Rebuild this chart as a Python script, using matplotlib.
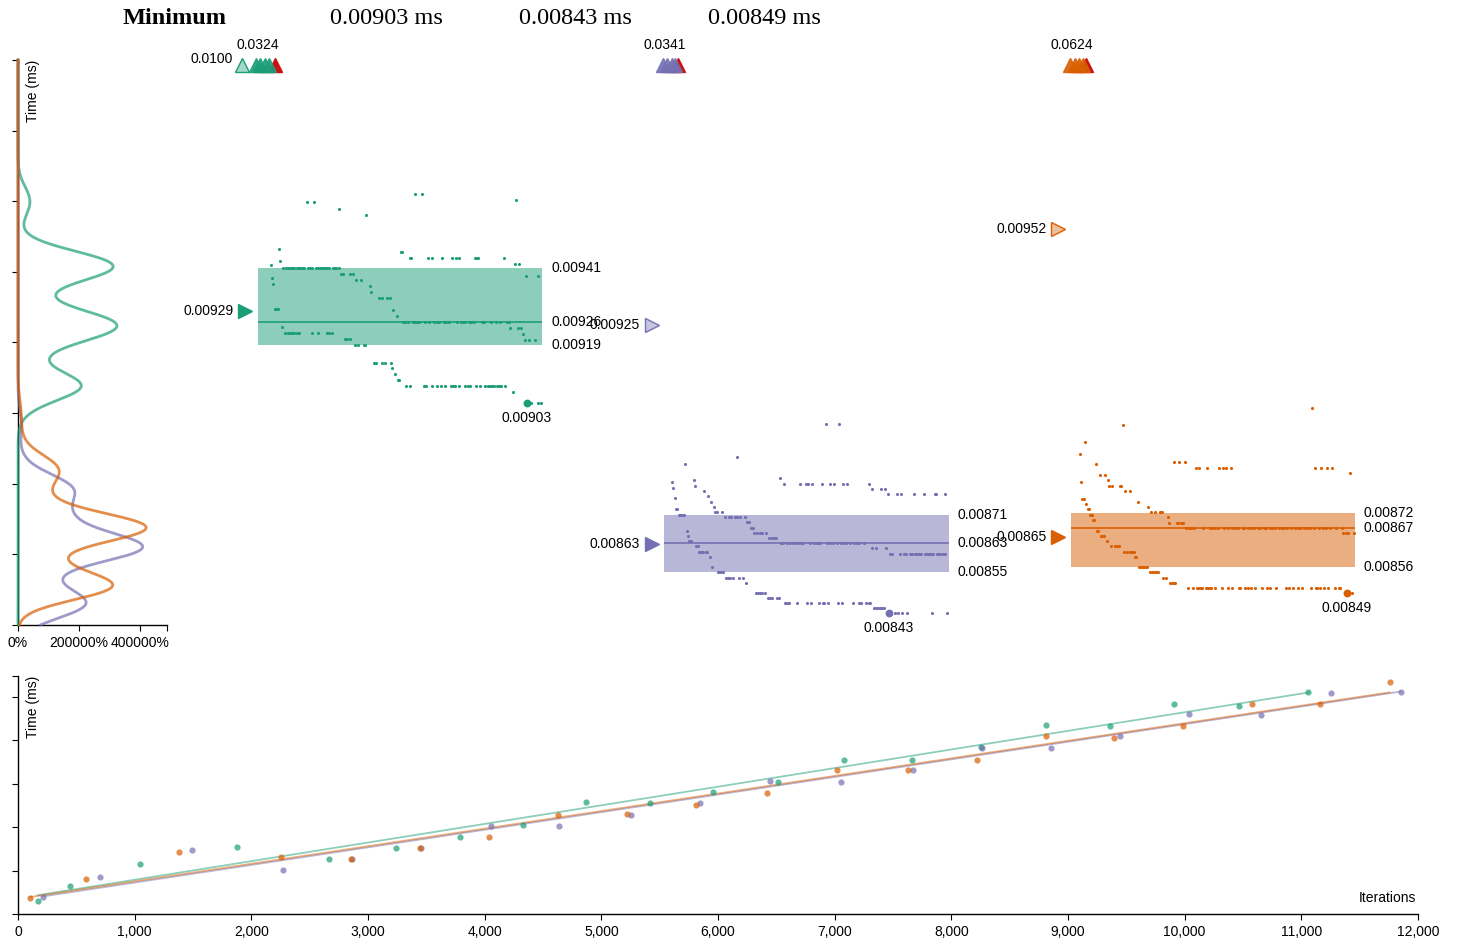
import numpy as np
import matplotlib.pyplot as plt
from matplotlib import transforms
from matplotlib.colors import to_rgba
from matplotlib.ticker import FuncFormatter, NullFormatter

W, H = 1458, 942
plt.rcParams['font.family'] = ['Liberation Sans', 'DejaVu Sans']
plt.rcParams['font.size'] = 10
plt.rcParams['axes.linewidth'] = 1.0

colors = ['#1b9e77', '#7570b3', '#d95f02']

# samples: (time per iteration in ms, positions along the box in %)
green_rows = [
    (0.009621, [55.5, 57.8]),
    (0.009604, [91.0]),
    (0.009597, [17.4, 19.8]),
    (0.009579, [28.8]),
    (0.009561, [38.3]),
    (0.009465, [7.4]),
    (0.009456, [50.3, 50.9]),
    (0.009440, [53.5, 54.0, 59.8, 61.5, 64.9, 68.2, 69.6, 71.0, 76.4, 77.1, 77.6, 86.8]),
    (0.009430, [8.0]),
    (0.009422, [90.6, 92.0]),
    (0.009419, [4.7]),
    (0.009412, [9.1, 10.0, 10.7, 11.5, 12.3, 13.0, 13.8, 14.7, 15.4, 15.9, 16.5, 17.9, 18.5,
                19.1, 20.5, 21.2, 22.0, 22.6, 23.2, 23.8, 24.4, 25.2, 26.5, 27.1, 27.7, 28.5]),
    (0.009395, [29.4, 30.2, 32.4, 33.5]),
    (0.009389, [94.4, 98.6]),
    (0.009384, [5.2]),
    (0.009377, [34.6, 36.5]),
    (0.009366, [5.6]),
    (0.009360, [39.4]),
    (0.009343, [40.0]),
    (0.009326, [42.8, 43.7, 45.5, 46.4]),
    (0.009296, [6.0, 6.6, 7.2]),
    (0.009292, [47.8]),
    (0.009275, [48.9]),
    (0.009259, [51.1, 51.9, 52.8, 54.5, 55.2, 56.0, 56.9, 58.7, 60.4, 62.1, 63.1, 63.9, 65.4, 66.2,
                67.2, 70.1, 71.5, 72.2, 72.9, 74.2, 75.0, 76.0, 78.9, 79.5, 82.1, 83.8, 85.3, 87.7, 88.3]),
    (0.009244, [8.6]),
    (0.009241, [88.9, 91.6, 92.5]),
    (0.009228, [9.7, 10.6, 11.4, 12.2, 13.0, 13.8, 14.7, 19.3, 21.2, 24.6, 25.3, 26.1]),
    (0.009225, [93.2]),
    (0.009210, [30.6, 31.5, 32.6]),
    (0.009208, [93.9, 95.5, 97.4]),
    (0.009194, [34.1, 35.5, 37.3, 37.9]),
    (0.009143, [40.8, 41.6, 43.7, 44.7, 46.9]),
    (0.009127, [47.4]),
    (0.009110, [48.3]),
    (0.009093, [49.4, 49.8]),
    (0.009076, [52.2, 53.6, 58.4, 59.2, 61.2, 63.0, 64.4, 65.9, 68.0, 68.7, 69.3, 70.7, 73.0, 74.0,
                74.8, 76.8, 78.2, 80.1, 80.9, 81.6, 82.4, 83.2, 84.1, 84.9, 85.7, 87.1]),
    (0.009060, [89.8]),
    (0.009028, [94.7, 96.2, 98.6, 99.5]),
]

purple_rows = [
    (0.008969, [56.8, 61.6]),
    (0.008876, [25.5]),
    (0.008856, [7.5]),
    (0.008815, [40.7]),
    (0.008810, [10.4]),
    (0.008805, [2.8]),
    (0.008800, [42.2, 47.9, 49.8, 50.7, 52.1, 55.5, 58.3, 59.7, 63.0, 64.4, 72.0]),
    (0.008794, [10.9]),
    (0.008789, [3.3]),
    (0.008785, [73.0, 76.3, 77.8]),
    (0.008780, [14.2]),
    (0.008771, [78.7, 82.0, 83.4, 87.7, 91.5, 95.2, 95.7, 98.6]),
    (0.008764, [15.6]),
    (0.008759, [3.7]),
    (0.008749, [16.5]),
    (0.008735, [17.4]),
    (0.008728, [4.2, 4.7]),
    (0.008720, [17.9, 18.5, 20.4]),
    (0.008712, [5.2, 5.6, 6.1, 6.6, 7.0]),
    (0.008705, [21.3, 22.7, 23.4, 25.1, 25.8, 26.7, 28.5]),
    (0.008691, [29.3, 30.0]),
    (0.008676, [30.7, 31.3]),
    (0.008667, [8.1]),
    (0.008661, [31.7, 32.7, 33.6, 34.5, 35.9]),
    (0.008653, [8.5]),
    (0.008646, [36.9, 37.8, 38.6, 39.3]),
    (0.008637, [8.9, 9.5]),
    (0.008631, [41.2, 41.7, 43.3, 44.3, 45.2, 46.1, 47.1, 48.0, 48.9, 51.2, 52.7, 53.4, 54.1,
                55.0, 57.4, 58.3, 59.3, 60.7, 62.1, 63.0, 63.9, 65.3, 66.7, 67.7, 68.6, 70.4]),
    (0.008623, [11.4, 11.8]),
    (0.008617, [73.2, 74.5, 78.2]),
    (0.008608, [12.3, 12.8, 13.2, 13.8, 14.8, 15.2]),
    (0.008602, [79.4, 80.2, 82.9, 84.4, 84.9, 86.3, 86.8, 87.2, 88.2, 88.6, 89.1, 89.6, 90.0,
                90.5, 91.9, 92.4, 92.9, 93.3, 93.8, 94.7, 96.1, 96.6, 97.1, 98.0, 98.9]),
    (0.008593, [16.0]),
    (0.008563, [17.0]),
    (0.008549, [18.9, 19.3, 19.9, 20.6]),
    (0.008534, [21.8, 22.5, 23.2, 24.1, 26.5, 27.9]),
    (0.008520, [28.9]),
    (0.008491, [32.2, 32.9, 33.6, 34.3, 35.5]),
    (0.008476, [36.4, 37.1, 37.8, 39.8, 40.3]),
    (0.008462, [42.6, 43.1, 44.0, 46.8, 50.2, 51.6, 54.6, 56.0, 56.4, 57.8, 61.1, 62.5, 66.3,
                68.6, 69.3, 71.0, 71.9, 72.4]),
    (0.008447, [73.9, 74.5, 75.2, 75.9, 76.6, 77.3]),
    (0.008433, [79.0, 81.1, 82.1, 83.7, 85.4, 94.3, 99.5]),
]

orange_rows = [
    (0.009015, [84.9]),
    (0.008967, [18.4]),
    (0.008917, [5.2]),
    (0.008883, [3.3]),
    (0.008861, [36.5, 38.3, 40.2]),
    (0.008856, [8.9]),
    (0.008845, [44.1, 45.0, 47.9, 52.2, 53.6, 54.5, 56.4, 85.8, 88.2, 90.0, 91.9]),
    (0.008830, [98.1]),
    (0.008826, [10.3, 12.2]),
    (0.008811, [13.1]),
    (0.008805, [3.8]),
    (0.008794, [13.6, 14.5, 17.5, 17.9]),
    (0.008780, [19.3, 20.8]),
    (0.008758, [4.2, 4.7]),
    (0.008749, [23.7]),
    (0.008743, [5.6]),
    (0.008734, [27.4]),
    (0.008728, [6.1, 6.6]),
    (0.008719, [28.4, 29.8, 31.3, 31.8, 32.2]),
    (0.008712, [7.0, 7.5]),
    (0.008705, [34.1]),
    (0.008697, [8.0, 8.4]),
    (0.008690, [34.6, 37.4, 37.9, 38.8, 39.3, 39.7]),
    (0.008674, [40.7, 41.6, 42.2, 43.4, 46.4, 48.9, 49.8, 50.8, 51.7, 54.0, 55.5, 56.9, 57.8,
                58.7, 60.6, 61.1, 62.5, 63.4, 64.4, 65.8, 66.7, 68.1, 68.6, 70.0, 70.9, 71.9,
                73.3, 74.2, 75.1, 76.1, 77.5, 78.9, 79.8, 80.8, 82.2, 83.1, 84.1, 85.5, 87.3,
                88.7, 89.7, 91.3, 93.2, 95.3]),
    (0.008667, [9.4, 9.8]),
    (0.008661, [95.8, 96.7, 97.7, 99.5]),
    (0.008652, [10.8, 11.3, 11.7]),
    (0.008637, [12.7]),
    (0.008623, [14.1, 15.5, 16.4, 16.9]),
    (0.008608, [18.9, 19.8, 20.8, 21.7, 22.2]),
    (0.008593, [22.6, 23.1]),
    (0.008564, [24.0, 24.5, 25.0, 25.4, 25.9, 26.4, 27.0]),
    (0.008549, [27.9, 28.6, 29.3, 30.1, 30.8]),
    (0.008534, [32.5, 33.6]),
    (0.008520, [35.1, 35.8, 36.5, 36.9]),
    (0.008505, [41.3, 43.1, 44.5, 45.1, 45.7, 46.3, 47.5, 48.4, 48.9, 49.4, 50.8, 53.1, 55.5,
                56.9, 59.2, 59.7, 61.5, 62.5, 63.4, 64.8, 67.2, 69.1, 70.0, 72.4, 75.7, 76.7,
                78.1, 80.1, 81.5, 84.4, 86.3, 86.8, 87.7, 89.1, 90.5, 92.8, 94.3, 94.7]),
    (0.008491, [97.2, 99.1]),
]

# summary statistics (ms)
q1s = [0.009194, 0.008549, 0.008564]
medians = [0.009259, 0.008631, 0.008674]
q3s = [0.009412, 0.008712, 0.008718]
means = [0.00929, 0.00863, 0.00865]
alt_means = [0.0100, 0.00925, 0.00952]
mins = [0.009028, 0.008433, 0.008491]
min_pos = [94.7, 79.0, 97.2]
maxs = [0.0324, 0.0341, 0.0624]
over_pos = [[-0.5, 1.0, 2.5, 4.0], [-0.3, 1.2, 2.7, 4.0], [-0.3, 1.5, 3.0, 4.5]]
max_pos = [6.0, 5.0, 5.6]

# linear sampling: iterations vs total time (ms)
green_iters = [169, 448, 1046, 1880, 2668, 3237, 3789, 4329, 4869, 5417, 5957, 6514, 7080,
               7663, 8256, 8808, 9360, 9909, 10465, 11058]
green_times = [6.0, 12.8, 23.2, 31.0, 25.3, 30.6, 35.6, 41.0, 51.6, 51.1, 56.2, 60.8, 71.0,
               71.0, 77.0, 87.2, 86.6, 96.6, 96.0, 102.2]
purple_iters = [217, 700, 1494, 2274, 2863, 3457, 4052, 4637, 5254, 5846, 6446, 7054, 7669,
                8266, 8855, 9449, 10039, 10650, 11256, 11852]
purple_times = [7.8, 16.9, 29.4, 20.4, 25.3, 30.4, 40.7, 40.6, 45.6, 51.1, 61.3, 60.8, 66.2,
                76.6, 76.6, 82.2, 92.2, 91.6, 102.0, 102.4]
orange_iters = [103, 583, 1377, 2257, 2854, 3446, 4037, 4629, 5220, 5811, 6420, 7020, 7630,
                8223, 8811, 9398, 9989, 10576, 11161, 11757]
orange_times = [7.2, 16.3, 28.4, 26.1, 25.3, 30.4, 35.5, 45.6, 46.1, 50.2, 55.8, 66.4, 66.5,
                71.1, 82.2, 81.1, 86.5, 96.8, 96.9, 107.0]

y_lo, y_hi = 0.0084, 0.0100
kde_bw = 0.000037
kde_xmax = 4885

fig = plt.figure(figsize=(W / 100, H / 100), dpi=100)


def add_ax(x0, y0, x1, y1):
    return fig.add_axes([x0 / W, 1 - y1 / H, (x1 - x0) / W, (y1 - y0) / H])


def shift(base, dx, dy):
    # dx, dy in pixels, dy positive = down
    return base + transforms.ScaledTranslation(dx / 100, -dy / 100, fig.dpi_scale_trans)


def flat(rows):
    xs = [p for v, ps in rows for p in ps]
    ys = [v for v, ps in rows for p in ps]
    return np.array(xs), np.array(ys)


# ---- density panel ----
kax = add_ax(18, 60, 167, 625)
kax.set_ylim(y_lo, y_hi)
kax.set_xlim(0, kde_xmax)
kax.set_yticks(np.linspace(y_lo, y_hi, 9))
kax.yaxis.set_major_formatter(NullFormatter())
kax.set_xticks([0, 2000, 4000, kde_xmax])
kax.set_xticklabels(['0%', '200000%', '400000%', ''])
kax.spines[['top', 'right']].set_visible(False)
kax.tick_params(length=4.3, width=0.8, pad=3.5)

grid = np.linspace(y_lo, y_hi, 800)
all_rows = [green_rows, purple_rows, orange_rows]
for rows, c in zip(all_rows, colors):
    _, vals = flat(rows)
    d = (grid[:, None] - vals[None, :]) / kde_bw
    dens = np.exp(-0.5 * d ** 2).sum(axis=1) / (len(vals) * kde_bw * np.sqrt(2 * np.pi))
    kax.plot(dens, grid, color=c, alpha=0.7, lw=2.0, clip_on=False, zorder=3)

fig.text(33 / W, 1 - 60 / H, 'Time (ms)', rotation=90, ha='center', va='top')

# ---- per benchmark sample panels ----
box_left = [257.5, 664.0, 1070.5]
box_w = 284.5
for i, rows in enumerate(all_rows):
    c = colors[i]
    light = to_rgba(c, 0.4)
    gax = add_ax(box_left[i], 60, box_left[i] + box_w, 625)
    gax.set_xlim(0, 100)
    gax.set_ylim(y_lo, y_hi)
    gax.axis('off')
    side = transforms.blended_transform_factory(gax.transAxes, gax.transData)

    gax.axhspan(q1s[i], q3s[i], color=c, alpha=0.5, lw=0, zorder=1)
    gax.axhline(medians[i], color=c, lw=1.2, zorder=2)

    xs, ys = flat(rows)
    gax.scatter(xs, ys, s=5, color=c, lw=0, zorder=3)
    gax.scatter([min_pos[i]], [mins[i]], s=32, color=c, lw=0, zorder=4)
    gax.annotate(f'{mins[i]:#.3g}', (min_pos[i], mins[i]), xytext=(0, -15 * 0.72),
                 textcoords='offset points', ha='center', va='center')

    for v in (q3s[i], medians[i], q1s[i]):
        gax.annotate(f'{v:#.3g}', (1, v), xycoords=side, xytext=(9 * 0.72, 0),
                     textcoords='offset points', ha='left', va='center')

    # mean marker
    gax.plot([0], [means[i]], marker='>', ms=10, color=c, lw=0,
             transform=shift(side, -12.5, 0), clip_on=False)
    gax.annotate(f'{means[i]:#.3g}', (0, means[i]), xycoords=side, xytext=(-24 * 0.72, 0),
                 textcoords='offset points', ha='right', va='center')

    # secondary marker
    a = alt_means[i]
    if a < y_hi:
        gax.plot([0], [a], marker='>', ms=10, mfc=light, mec=c, mew=1, lw=0,
                 transform=shift(side, -12.5, 0), clip_on=False)
        gax.annotate(f'{a:#.3g}', (0, a), xycoords=side, xytext=(-24 * 0.72, 0),
                     textcoords='offset points', ha='right', va='center')
    else:
        gax.plot([0], [y_hi], marker='^', ms=10, mfc=light, mec=c, mew=1, lw=0,
                 transform=shift(side, -15.5, 5), clip_on=False)
        gax.annotate(f'{a:#.3g}', (0, y_hi), xycoords=side, xytext=(-24.5 * 0.72, 1 * 0.72),
                     textcoords='offset points', ha='right', va='center',
                     annotation_clip=False)

    # samples above the axis
    top = shift(gax.transData, 0, 5)
    gax.plot([max_pos[i]], [y_hi], marker='^', ms=10, color='#cc1111', lw=0,
             transform=top, clip_on=False, zorder=5)
    gax.plot(over_pos[i], [y_hi] * len(over_pos[i]), marker='^', ms=10, color=c, lw=0,
             alpha=0.9, transform=top, clip_on=False, zorder=6)
    gax.annotate(f'{maxs[i]:#.3g}', (over_pos[i][0] + 0.7, y_hi), xytext=(0, 15 * 0.72),
                 textcoords='offset points', ha='center', va='center',
                 annotation_clip=False)

# ---- header ----
fig.text(123 / W, 1 - 24 / H, 'Minimum', family=['Liberation Serif'], weight='bold',
         size=17.5, ha='left', va='baseline')
for i, xc in enumerate([386, 575, 764]):
    fig.text(xc / W, 1 - 24 / H, f'{mins[i]:#.3g} ms', family=['Liberation Serif'],
             size=17.5, ha='center', va='baseline')

# ---- iterations vs time ----
bax = add_ax(18, 676, 1418, 914)
bax.set_xlim(0, 12000)
bax.set_ylim(0, 109.7)
bax.set_xticks(np.arange(0, 12001, 1000))
bax.xaxis.set_major_formatter(FuncFormatter(lambda v, p: f'{int(v):,}'))
bax.set_yticks([0, 20, 40, 60, 80, 100, 109.7])
bax.yaxis.set_major_formatter(NullFormatter())
bax.spines[['top', 'right']].set_visible(False)
bax.tick_params(length=4.3, width=0.8, pad=3.5)

series = [(green_iters, green_times), (purple_iters, purple_times), (orange_iters, orange_times)]
for (its, ts), c in zip(series, colors):
    its = np.array(its)
    ts = np.array(ts)
    bax.scatter(its, ts, s=20, color=c, alpha=0.7, lw=0, zorder=3)
    k, b = np.polyfit(its, ts, 1)
    xx = np.array([its.min(), its.max()])
    bax.plot(xx, k * xx + b, color=c, alpha=0.5, lw=1.3, zorder=2)

fig.text(33 / W, 1 - 676 / H, 'Time (ms)', rotation=90, ha='center', va='top')
fig.text(1416 / W, 1 - 898 / H, 'Iterations', ha='right', va='center')

fig.savefig('out.png', dpi=100)
